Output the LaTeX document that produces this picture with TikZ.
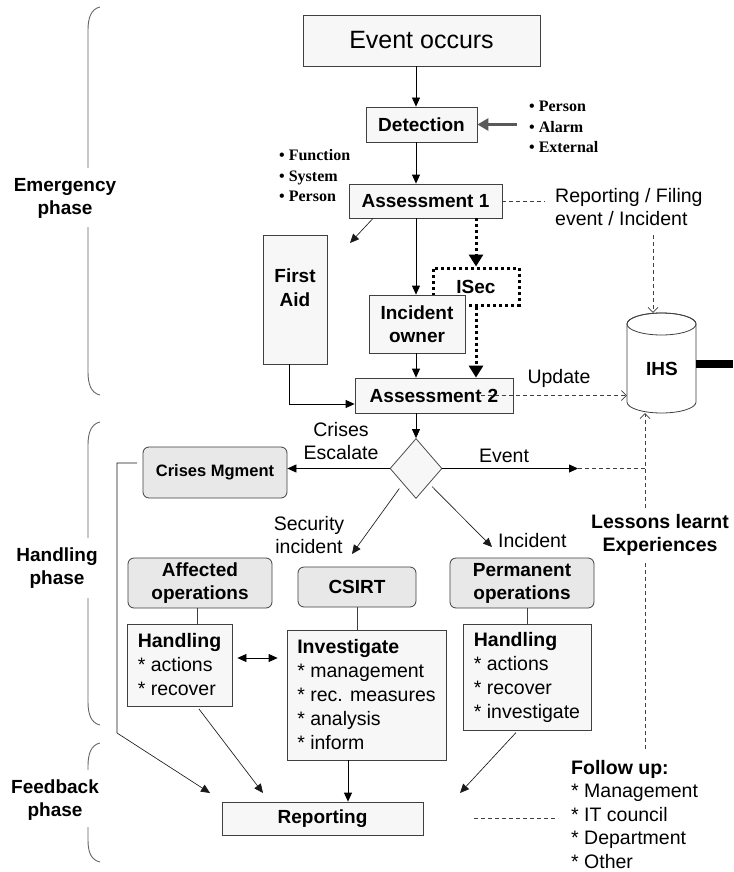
\documentclass[tikz,border=0pt]{standalone}
\usepackage{fontspec}
\setmainfont{Liberation Sans}
\newfontfamily\tmsfont{Liberation Serif}
\usetikzlibrary{arrows.meta,shapes.geometric}
\begin{document}
\begin{tikzpicture}[x=1pt,y=-1pt,
  box/.style={draw=black!75, fill=black!3, line width=0.8pt, inner sep=0pt, align=center, font=\bfseries\fontsize{19}{23}\selectfont},
  rbox/.style={box, fill=black!9, rounded corners=6pt},
  lbox/.style={box, align=left, font=\fontsize{19.5}{24}\selectfont},
  lab/.style={inner sep=0pt, align=center, font=\fontsize{19.5}{23}\selectfont},
  blab/.style={inner sep=0pt, align=center, font=\bfseries\fontsize{19.5}{23}\selectfont},
  phase/.style={inner sep=0pt, align=center, font=\bfseries\fontsize{19}{23}\selectfont},
  bul/.style={inner sep=0pt, align=left, anchor=north west, font=\tmsfont\bfseries\fontsize{16}{20.5}\selectfont},
  arr/.style={draw=black, line width=0.8pt, -{Triangle[length=9pt,width=8pt]}},
  thinarr/.style={draw=black!90, line width=0.65pt, -{Triangle[length=9pt,width=8pt]}},
  ln/.style={draw=black!75, line width=0.7pt},
  dashln/.style={draw=black!75, line width=0.7pt, dash pattern=on 4pt off 3pt},
  dasharr/.style={dashln, -{Straight Barb[length=5pt,width=10pt]}},
  dotarr/.style={draw=black, line width=3pt, dash pattern=on 3pt off 3pt, -{Triangle[length=12pt,width=14pt]}},
  grayarr/.style={draw=black!65, line width=3.5pt, -{Triangle[length=11pt,width=12pt]}},
  brk/.style={draw=black!60, line width=0.9pt}
]
\useasboundingbox (0,0) rectangle (733,872);
\fill[white] (0,0) rectangle (733,872);

% ---- phase brackets
\draw[brk] (100,7) .. controls (91,9) and (88,18) .. (88,30) -- (88,168);
\draw[brk] (88,227) -- (88,372) .. controls (88,384) and (91,393) .. (100,395);
\node[phase] (ph1) at (65,198.5) {Emergency\\phase};
\draw[brk] (100,422) .. controls (91,424) and (88,433) .. (88,445) -- (88,538);
\draw[brk] (88,598) -- (88,702) .. controls (88,714) and (91,723) .. (100,725);
\node[phase] (ph2) at (57,568.5) {Handling\\phase};
\draw[brk] (100,743) .. controls (91,745) and (88,754) .. (88,766) -- (88,770);
\draw[brk] (88,827) -- (88,840) .. controls (88,852) and (91,860) .. (100,862);
\node[phase] (ph3) at (55,800) {Feedback\\phase};

% ---- top boxes
\node[box, minimum width=237pt, minimum height=51pt, font=\fontsize{25}{30}\selectfont] (ev) at (421.5,40.5) {\raisebox{-6pt}{Event occurs}};
\node[box, minimum width=111pt, minimum height=35pt] (det) at (421.5,124.5) {Detection};
\node[box, minimum width=153pt, minimum height=34pt] (as1) at (425.5,201) {Assessment 1};
\node[box, minimum width=64pt, minimum height=129pt] (fa) at (295,299.5) {};
\node[inner sep=0pt, align=center, font=\bfseries\fontsize{19}{24}\selectfont] (fat) at (295,288) {First\\Aid};
\node[box, fill=white, draw=black, line width=3pt, dash pattern=on 3pt off 3pt, minimum width=86pt, minimum height=37pt] (isec) at (476,286.5) {ISec};
\node[box, minimum width=96pt, minimum height=58pt] (io) at (417,324) {Incident\\owner};
\node[box, minimum width=158pt, minimum height=35pt] (as2) at (434,395.5) {Assessment\hspace{6pt}2};

\node[bul] (bl1) at (529,101) {\textbullet\ Person\\\textbullet\ Alarm\\\textbullet\ External};
\node[bul] (bl2) at (279,149.5) {\textbullet\ Function\\\textbullet\ System\\\textbullet\ Person};

\node[lab, anchor=north west, align=left] (rf) at (555,188) {Reporting / Filing\\event / Incident};

% ---- IHS cylinder
\node[inner sep=0pt, minimum width=69pt, minimum height=100pt] (ihs) at (661.5,363) {};
\draw[draw=black!75, fill=white, line width=0.8pt] (627,324) -- (627,402) arc[start angle=180,end angle=360,x radius=34.5pt,y radius=11pt] -- (696,324) arc[start angle=0,end angle=180,x radius=34.5pt,y radius=11pt] -- cycle;
\draw[draw=black!75, line width=0.8pt] (661.5,324) ellipse [x radius=34.5pt, y radius=11pt];
\node[inner sep=0pt, font=\bfseries\fontsize{19}{23}\selectfont] (ihst) at (662,369) {IHS};
\fill (696,360) rectangle (733,368);

% ---- top connectors
\coordinate (ax) at (416,0);
\coordinate (dx) at (476,0);
\draw[arr] (ev.south -| ax) -- (det.north -| ax);
\draw[arr] (det.south -| ax) -- (as1.north -| ax);
\draw[arr] (as1.south -| ax) -- (io.north -| ax);
\draw[arr] (io.south -| ax) -- (as2.north -| ax);
\coordinate (dsrc) at (517,124.5);
\draw[grayarr] (dsrc) -- (det.east);
\coordinate (fatip) at (350,243);
\draw[thinarr] ([xshift=-52.5pt]as1.south) -- (fatip);
\draw[dotarr] (as1.south -| dx) -- (isec.north);
\draw[dotarr] (isec.south) -- (as2.north -| dx);
\draw[arr] ([xshift=-6pt]fa.south) |- (as2.west |- 0,404);
\coordinate (rfl) at (545,201);
\draw[dashln] (as1.east) -- (rfl);
\coordinate (rfd) at (653,235);
\draw[dasharr] (rfd) -- (ihs.north -| rfd);
\draw[dasharr] ([xshift=47pt]as2.center) -- (as2.center -| ihs.west);
\node[lab] (upd) at (559,378) {Update};

% ---- decision
\node[draw=black!70, fill=black!3, line width=0.8pt, diamond, minimum width=52pt, minimum height=60pt, inner sep=0pt] (dm) at (416,468.5) {};
\draw[arr] (as2.south -| ax) -- (dm.north);
\node[rbox, minimum width=144pt, minimum height=51pt, font=\bfseries\fontsize{16.5}{20}\selectfont] (cm) at (215,472.5) {Crises Mgment};
\draw[arr] (dm.west) -- (dm.west -| cm.east);
\node[lab] (cre) at (341,441.5) {Crises\\Escalate};
\coordinate (evtip) at (578,0);
\coordinate (lx) at (645,0);
\draw[arr] (dm.east) -- (dm.east -| evtip);
\draw[dashln] (dm.east -| evtip) -- (dm.east -| lx);
\node[lab] (evl) at (504,456) {Event};
\node[blab] (ll) at (660,534.5) {Lessons learnt\\Experiences};
\draw[dasharr, shorten <=6pt] (ll.north -| lx) -- (ihs.south -| lx);
\coordinate (fut) at (645,750);
\draw[dashln, shorten <=8pt] (ll.south -| lx) -- (fut);
\coordinate (sectip) at (352,554);
\draw[thinarr, shorten <=6pt] (dm.south west) -- (sectip);
\node[lab] (secl) at (309,535) {Security\\incident};
\coordinate (inctip) at (492,547);
\draw[thinarr, shorten <=4pt] (dm.south east) -- (inctip);
\node[lab, anchor=west] (incl) at (498,541) {Incident};

% ---- handling row
\node[rbox, minimum width=144pt, minimum height=50pt] (af) at (200,583) {Affected\\operations};
\node[rbox, minimum width=118pt, minimum height=40pt] (cs) at (357,587) {CSIRT};
\node[rbox, minimum width=144pt, minimum height=50pt] (po) at (522,583) {Permanent\\operations};
\node[lbox, minimum width=105pt, minimum height=82pt] (hl) at (179.5,665) {\textbf{Handling}\\{*} actions\\{*} recover};
\node[lbox, minimum width=159pt, minimum height=130pt] (inv) at (366.5,695) {\textbf{Investigate}\\{*} management\\{*} rec. measures\\{*} analysis\\{*} inform};
\node[lbox, minimum width=128pt, minimum height=106pt] (ph) at (527,677) {\textbf{Handling}\\{*} actions\\{*} recover\\{*} investigate};
\draw[ln] (af.south -| 197,0) -- (hl.north -| 197,0);
\draw[ln] (cs.south) -- (cs.south |- inv.north);
\draw[ln] (po.south -| 527,0) -- (ph.north -| 527,0);
\draw[draw=black, line width=0.8pt, {Triangle[length=9pt,width=8pt]}-{Triangle[length=9pt,width=8pt]}, shorten <=5pt, shorten >=9pt] (hl.east |- 0,658) -- (inv.west |- 0,658);

% ---- feedback
\node[box, minimum width=201pt, minimum height=33pt] (rp) at (322.5,818.5) {Reporting};
\coordinate (cml) at (137,463);
\coordinate (rpt1) at (210,793);
\draw[thinarr] (cml) -- (117,463) -- (117,733) -- (rpt1);
\coordinate (rpt2) at (263,793);
\draw[thinarr, shorten <=3pt] (hl.south -| 197,0) -- (rpt2);
\draw[arr] (inv.south -| 348,0) -- (rp.north -| 348,0);
\coordinate (rpt3) at (460,793);
\draw[thinarr, shorten <=3pt] (ph.south -| 518,0) -- (rpt3);
\node[anchor=north west, inner sep=0pt, align=left, font=\fontsize{19.5}{23.5}\selectfont] (fu) at (571,760) {\textbf{Follow up:}\\{*} Management\\{*} IT council\\{*} Department\\{*} Other};
\coordinate (fu1) at (474,818);
\coordinate (fu2) at (558,818);
\draw[dashln] (fu1) -- (fu2);
\end{tikzpicture}
\end{document}
